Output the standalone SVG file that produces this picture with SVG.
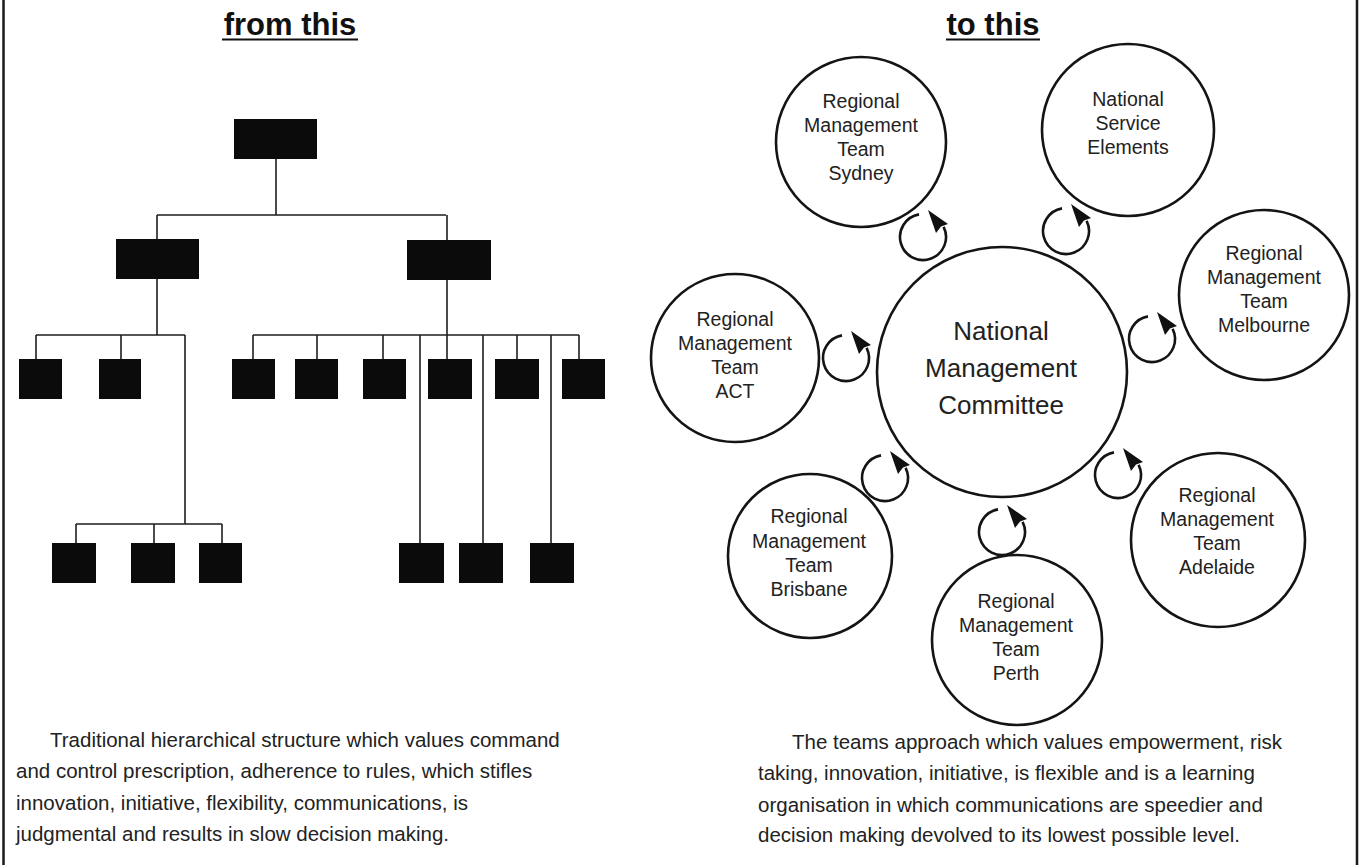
<svg xmlns="http://www.w3.org/2000/svg" xmlns:xlink="http://www.w3.org/1999/xlink" width="1363" height="865" viewBox="0 0 1363 865">
<style>
  .bg{fill:#ffffff}
  .frame{stroke:#1a1a1a;stroke-width:2.5;fill:none}
  .title{font-family:"Liberation Sans",Arial,sans-serif;font-weight:bold;font-size:31px;fill:#111;text-anchor:middle}
  .uline{stroke:#111;stroke-width:2.2}
  .box{fill:#0b0b0b}
  .conn{stroke:#1e1e1e;stroke-width:1.6;fill:none}
  .node{fill:none;stroke:#141414;stroke-width:2.6}
  .lbl{font-family:"Liberation Sans",Arial,sans-serif;font-size:19.5px;fill:#222;text-anchor:middle}
  .big{font-family:"Liberation Sans",Arial,sans-serif;font-size:26px;fill:#222;text-anchor:middle}
  .para{font-family:"Liberation Sans",Arial,sans-serif;font-size:20.5px;fill:#222}
  .cyc{fill:none;stroke:#141414;stroke-width:2.6}
  .head{fill:#111}
</style>
<defs>
  <g id="cycle">
    <path class="cyc" d="M -4 -22.6 A 23 23 0 1 0 20.6 -10.2"/>
    <polygon class="head" points="5,-27 25,-13 18,-10.5 13,-4"/>
  </g>
</defs>
<rect class="bg" x="0" y="0" width="1363" height="865"/>
<line class="frame" x1="3.5" y1="0" x2="3.5" y2="865"/>
<line class="frame" x1="1357" y1="0" x2="1357" y2="865"/>

<g id="titles">
  <text class="title" x="290" y="35">from this</text>
  <line class="uline" x1="222" y1="39.5" x2="358" y2="39.5"/>
  <text class="title" x="993" y="35">to this</text>
  <line class="uline" x1="946" y1="39.5" x2="1040" y2="39.5"/>
</g>

<g id="connectors">
  <path class="conn" d="M276 159 V215 M157 215 H446 M157 215 V239 M447 215 V240"/>
  <path class="conn" d="M157 279 V335 M36 335 H185 M36 335 V359 M121 335 V359 M185 335 V524"/>
  <path class="conn" d="M76 524 H222 M76 524 V543 M154 524 V543 M222 524 V543"/>
  <path class="conn" d="M447 280 V335 M253 335 H579 M253 335 V359 M317 335 V359 M383 335 V359 M447 335 V359 M517 335 V359 M579 335 V359"/>
  <path class="conn" d="M420 335 V543 M483 335 V543 M551 335 V543"/>
</g>

<g id="tree-top"><rect class="box" x="234" y="119" width="83" height="40"/></g>
<g id="tree-mid-left"><rect class="box" x="116" y="239" width="83" height="40"/></g>
<g id="tree-mid-right"><rect class="box" x="407" y="240" width="84" height="40"/></g>
<g id="tree-row3">
  <rect class="box" x="19" y="359" width="43" height="40"/>
  <rect class="box" x="99" y="359" width="42" height="40"/>
  <rect class="box" x="232" y="359" width="43" height="40"/>
  <rect class="box" x="295" y="359" width="43" height="40"/>
  <rect class="box" x="363" y="359" width="43" height="40"/>
  <rect class="box" x="428" y="359" width="44" height="40"/>
  <rect class="box" x="495" y="359" width="44" height="40"/>
  <rect class="box" x="562" y="359" width="43" height="40"/>
</g>
<g id="tree-row4">
  <rect class="box" x="52" y="543" width="44" height="40"/>
  <rect class="box" x="131" y="543" width="44" height="40"/>
  <rect class="box" x="199" y="543" width="43" height="40"/>
  <rect class="box" x="399" y="543" width="45" height="40"/>
  <rect class="box" x="459" y="543" width="44" height="40"/>
  <rect class="box" x="530" y="543" width="44" height="40"/>
</g>

<g id="nmc">
  <circle class="node" cx="1002" cy="372" r="125"/>
  <text class="big" x="1001" y="340">National</text>
  <text class="big" x="1001" y="377">Management</text>
  <text class="big" x="1001" y="414">Committee</text>
</g>
<g id="sydney">
  <circle class="node" cx="861" cy="142" r="85"/>
  <text class="lbl" x="861" y="108">Regional</text>
  <text class="lbl" x="861" y="132">Management</text>
  <text class="lbl" x="861" y="156">Team</text>
  <text class="lbl" x="861" y="180">Sydney</text>
</g>
<g id="nse">
  <circle class="node" cx="1128" cy="130" r="86"/>
  <text class="lbl" x="1128" y="106">National</text>
  <text class="lbl" x="1128" y="130">Service</text>
  <text class="lbl" x="1128" y="154">Elements</text>
</g>
<g id="melbourne">
  <circle class="node" cx="1264" cy="295" r="85"/>
  <text class="lbl" x="1264" y="260">Regional</text>
  <text class="lbl" x="1264" y="284">Management</text>
  <text class="lbl" x="1264" y="308">Team</text>
  <text class="lbl" x="1264" y="332">Melbourne</text>
</g>
<g id="act">
  <circle class="node" cx="735" cy="358" r="84"/>
  <text class="lbl" x="735" y="326">Regional</text>
  <text class="lbl" x="735" y="350">Management</text>
  <text class="lbl" x="735" y="374">Team</text>
  <text class="lbl" x="735" y="398">ACT</text>
</g>
<g id="adelaide">
  <circle class="node" cx="1218" cy="540" r="87"/>
  <text class="lbl" x="1217" y="502">Regional</text>
  <text class="lbl" x="1217" y="526">Management</text>
  <text class="lbl" x="1217" y="550">Team</text>
  <text class="lbl" x="1217" y="574">Adelaide</text>
</g>
<g id="brisbane">
  <circle class="node" cx="810" cy="556" r="82"/>
  <text class="lbl" x="809" y="523">Regional</text>
  <text class="lbl" x="809" y="548">Management</text>
  <text class="lbl" x="809" y="572">Team</text>
  <text class="lbl" x="809" y="596">Brisbane</text>
</g>
<g id="perth">
  <circle class="node" cx="1017" cy="640" r="85"/>
  <text class="lbl" x="1016" y="608">Regional</text>
  <text class="lbl" x="1016" y="632">Management</text>
  <text class="lbl" x="1016" y="656">Team</text>
  <text class="lbl" x="1016" y="680">Perth</text>
</g>

<g id="cycles">
  <use xlink:href="#cycle" href="#cycle" x="923" y="237"/>
  <use xlink:href="#cycle" href="#cycle" x="1066" y="231"/>
  <use xlink:href="#cycle" href="#cycle" x="846" y="358"/>
  <use xlink:href="#cycle" href="#cycle" x="1152" y="339"/>
  <use xlink:href="#cycle" href="#cycle" x="1118" y="475"/>
  <use xlink:href="#cycle" href="#cycle" x="885" y="478"/>
  <use xlink:href="#cycle" href="#cycle" x="1002" y="532"/>
</g>

<g id="captions">
  <text class="para" x="50" y="747">Traditional hierarchical structure which values command</text>
  <text class="para" x="16" y="778">and control prescription, adherence to rules, which stifles</text>
  <text class="para" x="16" y="810">innovation, initiative, flexibility, communications, is</text>
  <text class="para" x="16" y="841">judgmental and results in slow decision making.</text>
  <text class="para" x="792" y="749">The teams approach which values empowerment, risk</text>
  <text class="para" x="758" y="780">taking, innovation, initiative, is flexible and is a learning</text>
  <text class="para" x="758" y="812">organisation in which communications are speedier and</text>
  <text class="para" x="758" y="842">decision making devolved to its lowest possible level.</text>
</g>
</svg>
